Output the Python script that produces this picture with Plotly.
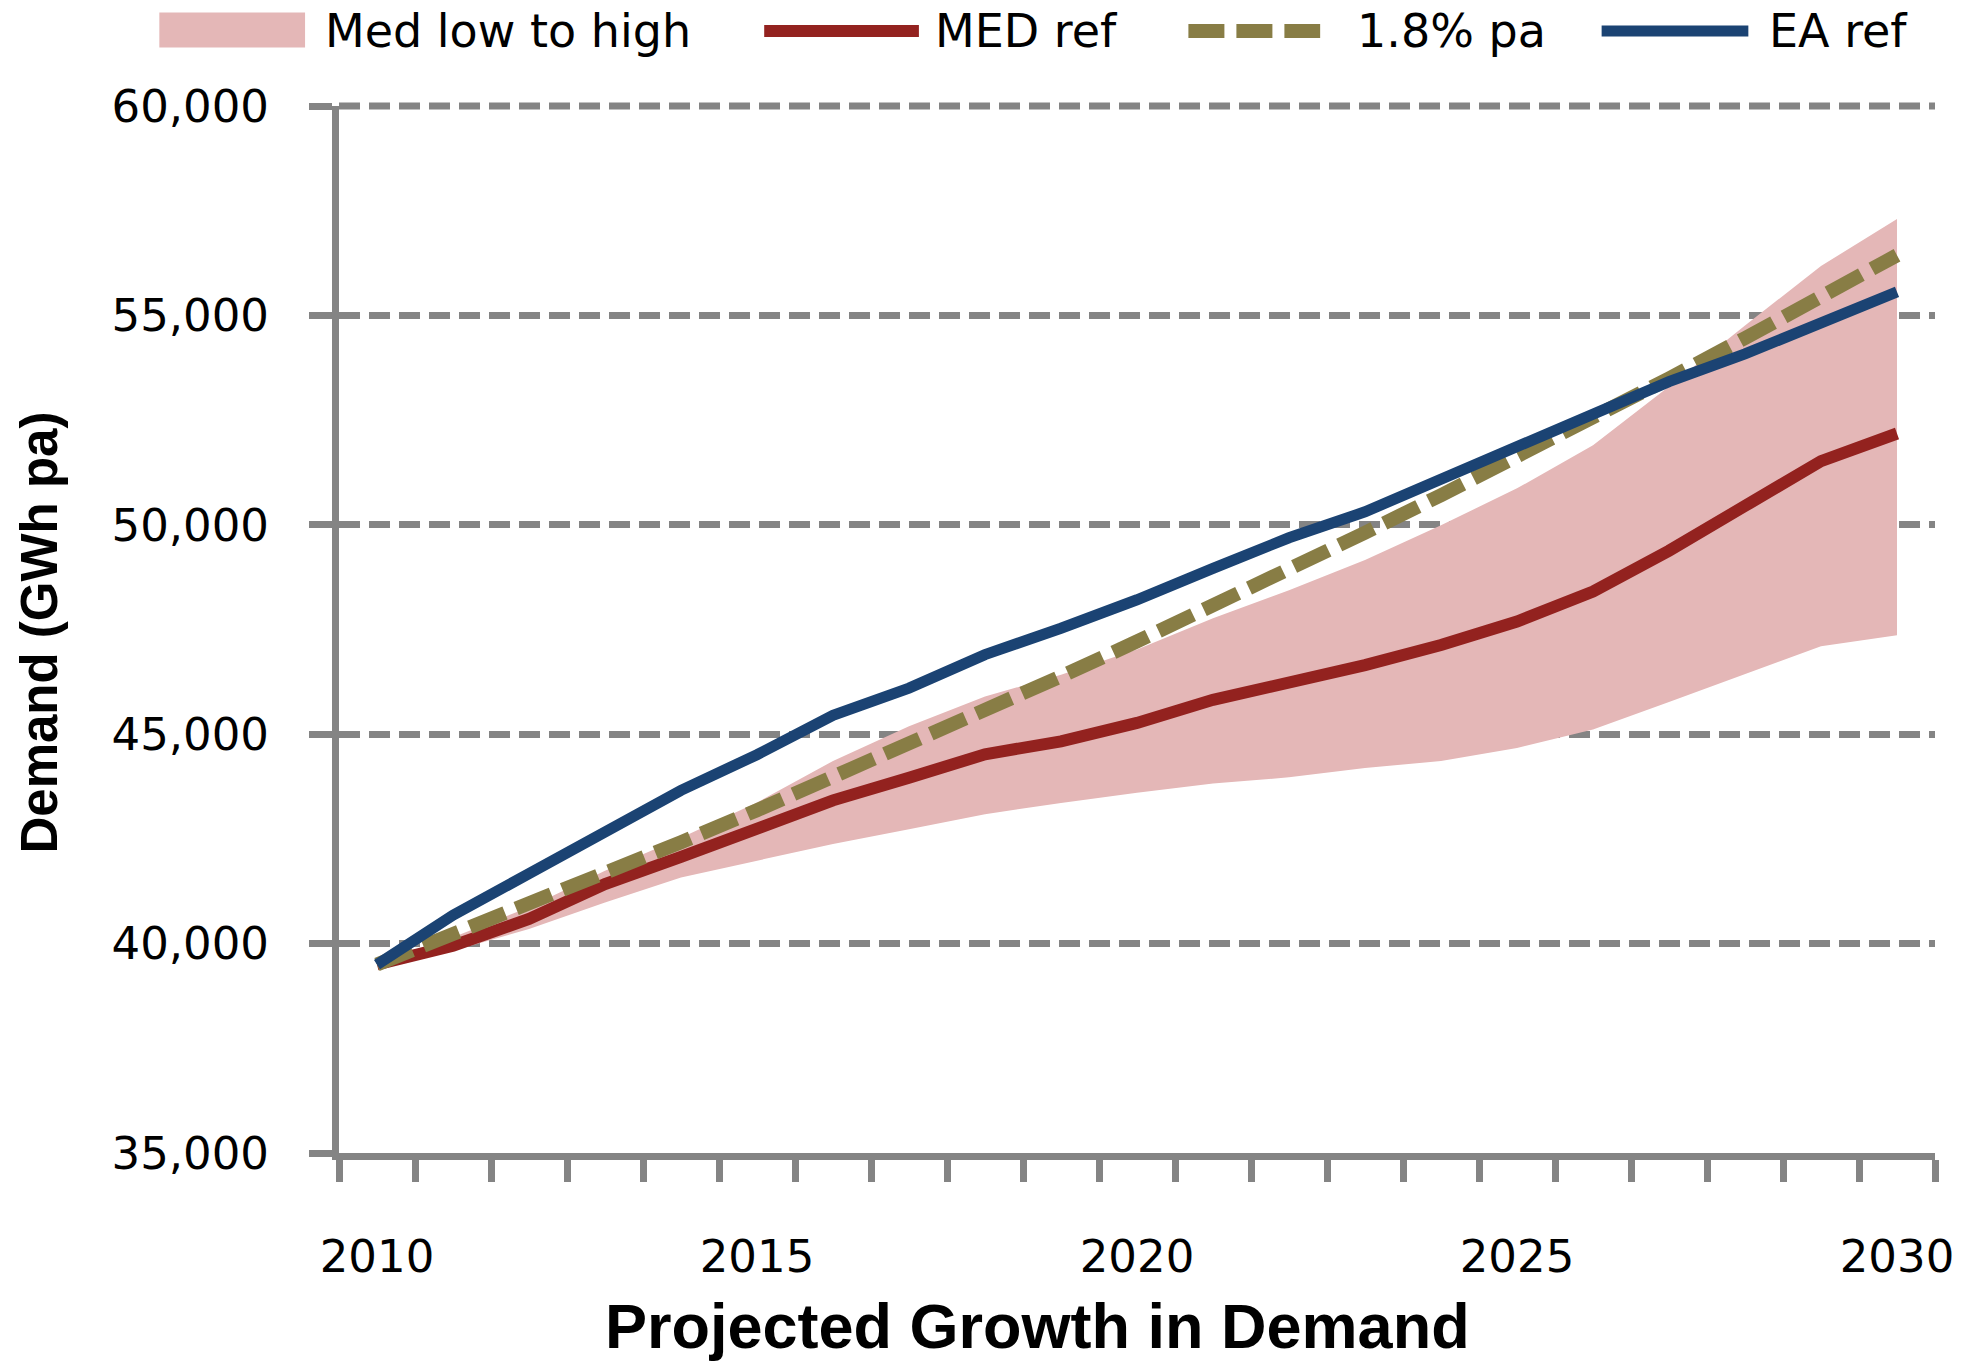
import plotly.graph_objects as go

# ---------------- data ----------------
years = list(range(2010, 2031))

med_low = [39500, 39830, 40350, 40980, 41580, 41980, 42380, 42730, 43090, 43360,
           43600, 43820, 43970, 44190, 44360, 44670, 45110, 45770, 46430, 47100, 47360]
med_high = [39500, 40150, 40870, 41740, 42530, 43370, 44360, 45190, 45900, 46420,
            47020, 47770, 48440, 49160, 49990, 50870, 51900, 53300, 54760, 56180, 57300]
med_ref = [39500, 39950, 40590, 41420, 42070, 42730, 43420, 43960, 44520, 44830,
           45270, 45820, 46220, 46650, 47130, 47690, 48405, 49380, 50450, 51520, 52180]
growth_18 = [39500, 40211, 40935, 41672, 42422, 43185, 43963, 44754, 45560, 46380,
             47215, 48064, 48930, 49810, 50707, 51620, 52549, 53495, 54458, 55438, 56436]
ea_ref = [39500, 40680, 41670, 42690, 43660, 44510, 45450, 46100, 46900, 47530,
          48210, 48960, 49690, 50310, 51100, 51860, 52610, 53420, 54080, 54830, 55560]

y_tick_vals = [35000, 40000, 45000, 50000, 55000, 60000]
x_tick_vals = [2010, 2015, 2020, 2025, 2030]
x_tick_text = ["2010", "2015", "2020", "2025", "2030"]
x_category_edges = [2009.5 + i for i in range(22)]

legend_names = ["Med low to high", "MED ref", "1.8% pa", "EA ref"]

# ---------------- styling ----------------
W, H = 1966, 1367
L, R, T, B = 339, 28, 106, 214
PW, PH = W - L - R, H - T - B

PINK = "#E4B7B7"
RED = "#93221F"
OLIVE = "#887D45"
BLUE = "#1B4373"
GRAY = "#848484"
OLIVE_DASH = "38px,12px"
GRID_DASH = "21px,9px"


def px2x(px):
    return (px - L) / PW


def py2y(py):
    return (H - B - py) / PH


fig = go.Figure()
fig.add_trace(go.Scatter(x=years, y=med_low, mode="lines", line=dict(width=0, color=PINK),
                         showlegend=False, hoverinfo="skip"))
fig.add_trace(go.Scatter(x=years, y=med_high, mode="lines", fill="tonexty", fillcolor=PINK,
                         line=dict(width=0, color=PINK), name=legend_names[0], showlegend=False))
fig.add_trace(go.Scatter(x=years, y=med_ref, mode="lines", line=dict(width=12, color=RED),
                         name=legend_names[1], showlegend=False))
fig.add_trace(go.Scatter(x=years, y=growth_18, mode="lines",
                         line=dict(width=14, color=OLIVE, dash=OLIVE_DASH),
                         name=legend_names[2], showlegend=False))
fig.add_trace(go.Scatter(x=years, y=ea_ref, mode="lines", line=dict(width=11, color=BLUE),
                         name=legend_names[3], showlegend=False))

tick_font = dict(family="DejaVu Sans", size=45, color="black")

fig.update_layout(
    width=W, height=H,
    margin=dict(l=L, r=R, t=T, b=B, pad=0),
    paper_bgcolor="white", plot_bgcolor="white",
    showlegend=False,
    xaxis=dict(
        range=[2009.5, 2030.5], tickmode="array", tickvals=x_tick_vals, ticktext=x_tick_text,
        ticks="", showgrid=False, zeroline=False,
        showline=True, linecolor=GRAY, linewidth=7,
        tickfont=tick_font, ticklabelstandoff=58,
        minor=dict(tickmode="array", tickvals=x_category_edges, ticks="outside",
                   ticklen=22, tickwidth=7, tickcolor=GRAY, showgrid=False),
    ),
    yaxis=dict(
        range=[35000, 60000], tickmode="array", tickvals=y_tick_vals, tickformat=",",
        ticks="outside", ticklen=23, tickwidth=7, tickcolor=GRAY,
        showline=True, linecolor=GRAY, linewidth=7, zeroline=False,
        showgrid=True, gridcolor=GRAY, gridwidth=7, griddash=GRID_DASH,
        tickfont=tick_font, ticklabelstandoff=31,
    ),
)

# top gridline (at the edge of the plotting area, which plotly skips)
fig.add_shape(type="line", xref="paper", yref="paper", x0=0, x1=1, y0=1, y1=1,
              line=dict(color=GRAY, width=7, dash=GRID_DASH), layer="below")

# axis titles
fig.add_annotation(text="<b>Projected Growth in Demand</b>", xref="paper", yref="paper",
                   x=px2x(1039), y=py2y(1326), xanchor="center", yanchor="middle",
                   showarrow=False, font=dict(family="Liberation Sans", size=63, color="black"))
fig.add_annotation(text="<b>Demand (GWh pa)</b>", xref="paper", yref="paper",
                   x=px2x(38), y=py2y(633), xanchor="center", yanchor="middle", textangle=-90,
                   showarrow=False, font=dict(family="Liberation Sans", size=51, color="black"))

# manual legend (wide symbols as in the reference)
LEG_Y = 31
leg_font = dict(family="DejaVu Sans", size=46, color="black")
fig.add_shape(type="rect", xref="paper", yref="paper",
              x0=px2x(159), x1=px2x(305), y0=py2y(47.5), y1=py2y(12.5),
              fillcolor=PINK, line=dict(width=0))
fig.add_shape(type="line", xref="paper", yref="paper",
              x0=px2x(765), x1=px2x(920), y0=py2y(LEG_Y), y1=py2y(LEG_Y),
              line=dict(color=RED, width=12))
fig.add_shape(type="line", xref="paper", yref="paper",
              x0=px2x(1190), x1=px2x(1322), y0=py2y(LEG_Y), y1=py2y(LEG_Y),
              line=dict(color=OLIVE, width=14, dash="36px,12px"))
fig.add_shape(type="line", xref="paper", yref="paper",
              x0=px2x(1604), x1=px2x(1751), y0=py2y(LEG_Y), y1=py2y(LEG_Y),
              line=dict(color=BLUE, width=11))
for name, px in zip(legend_names, [323, 934, 1357, 1770]):
    fig.add_annotation(text=name, xref="paper", yref="paper", x=px2x(px), y=py2y(LEG_Y),
                       xanchor="left", yanchor="middle", showarrow=False, font=leg_font)

fig.write_html("out.html", config={"displayModeBar": False},
               post_script="document.body.style.margin='0';")
